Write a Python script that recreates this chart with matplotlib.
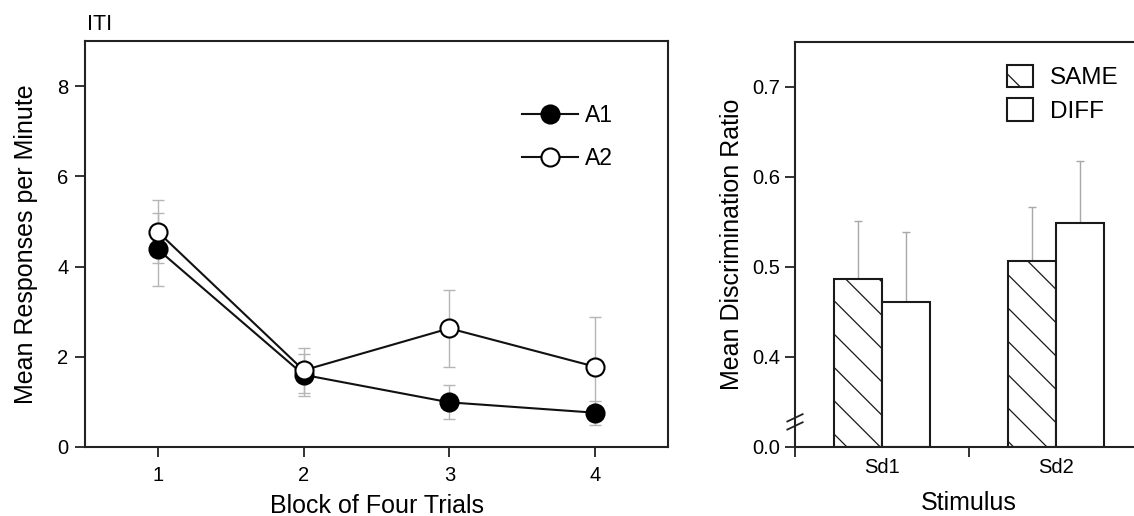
import numpy as np
import matplotlib
matplotlib.use("Agg")
import matplotlib.pyplot as plt
from matplotlib.patches import Patch

plt.rcParams['font.family'] = ['Liberation Sans', 'DejaVu Sans']
plt.rcParams['hatch.color'] = '#a8a8a8'
plt.rcParams['hatch.linewidth'] = 0.9

# left panel: ITI responses
blocks = [1, 2, 3, 4]
a1_mean = [4.38, 1.60, 0.99, 0.76]
a1_err = [0.80, 0.46, 0.38, 0.27]
a2_mean = [4.77, 1.70, 2.63, 1.78]
a2_err = [0.70, 0.50, 0.85, 1.10]

# right panel: discrimination ratio
stimuli = ['Sd1', 'Sd2']
same_mean = [0.487, 0.506]
same_err = [0.064, 0.060]
diff_mean = [0.461, 0.549]
diff_err = [0.078, 0.069]
ratio_ticks = [0.3, 0.4, 0.5, 0.6, 0.7]
ratio_ticklabels = ['0.0', '0.4', '0.5', '0.6', '0.7']
ratio_floor = 0.3

spine_col = '#222222'
fig = plt.figure(figsize=(11.34, 5.16), dpi=100)

# ---------------- left panel ----------------
ax = fig.add_axes([85 / 1134, 69 / 516, 583 / 1134, 406 / 516])
ax.errorbar(blocks, a1_mean, yerr=a1_err, fmt='none', ecolor='#b5b5b5',
            elinewidth=1, capsize=4, capthick=1, zorder=1)
ax.errorbar(blocks, a2_mean, yerr=a2_err, fmt='none', ecolor='#b5b5b5',
            elinewidth=1, capsize=4, capthick=1, zorder=1)
ax.plot(blocks, a1_mean, '-o', color='#111111', lw=1.5, ms=13,
        mfc='black', mec='black', mew=1.5, label='A1', zorder=3)
ax.plot(blocks, a2_mean, '-o', color='#111111', lw=1.5, ms=13,
        mfc='white', mec='black', mew=1.5, label='A2', zorder=4)
ax.set_xlim(0.5, 4.5)
ax.set_ylim(0, 9)
ax.set_xticks(blocks)
ax.set_yticks([0, 2, 4, 6, 8])
ax.tick_params(direction='out', length=7, width=1.3, color=spine_col,
               labelsize=14.5, pad=5)
ax.tick_params(axis='x', pad=7)
for s in ax.spines.values():
    s.set_linewidth(1.5)
    s.set_color(spine_col)
ax.set_xlabel('Block of Four Trials', fontsize=18, labelpad=6)
ax.set_ylabel('Mean Responses per Minute', fontsize=18, labelpad=14)
ax.text(0.004, 1.015, 'ITI', transform=ax.transAxes, fontsize=15.5,
        ha='left', va='bottom')
ax.legend(loc='upper left', bbox_to_anchor=(0.75, 0.845), frameon=False,
          fontsize=16.5, handlelength=2.45, handletextpad=0.3,
          labelspacing=0.88, borderpad=0, borderaxespad=0)

# ---------------- right panel ----------------
bx = fig.add_axes([795 / 1134, 69 / 516, 348 / 1134, 405.3 / 516])
x = np.arange(len(stimuli))
w = 0.276
same_h = [v - ratio_floor for v in same_mean]
diff_h = [v - ratio_floor for v in diff_mean]
bx.errorbar(x - w / 2, same_mean, yerr=[[0] * 2, same_err], fmt='none',
            ecolor='#a8a8a8', elinewidth=1, capsize=3, capthick=1, zorder=1)
bx.errorbar(x + w / 2, diff_mean, yerr=[[0] * 2, diff_err], fmt='none',
            ecolor='#a8a8a8', elinewidth=1, capsize=3, capthick=1, zorder=1)
bx.bar(x - w / 2, same_h, w, bottom=ratio_floor, facecolor='white',
       edgecolor='#1a1a1a', linewidth=1.5, hatch='\\', zorder=2)
bx.bar(x + w / 2, diff_h, w, bottom=ratio_floor, facecolor='white',
       edgecolor='#1a1a1a', linewidth=1.5, zorder=2)
bx.set_xlim(-0.5, 1.5)
bx.set_ylim(ratio_floor, 0.75)
bx.set_yticks(ratio_ticks)
bx.set_yticklabels(ratio_ticklabels)
bx.set_xticks(x)
bx.set_xticklabels(stimuli)
bx.set_xticks([-0.5, 0.5, 1.5], minor=True)
bx.tick_params(axis='x', which='major', length=0, labelsize=14.5, pad=8)
bx.tick_params(axis='x', which='minor', direction='out', length=7,
               width=1.3, color=spine_col)
bx.tick_params(axis='y', direction='out', length=7, width=1.3,
               color=spine_col, labelsize=14.5, pad=3.5)
bx.spines['right'].set_visible(False)
for k in ['left', 'top', 'bottom']:
    bx.spines[k].set_linewidth(1.5)
    bx.spines[k].set_color(spine_col)
bx.set_xlabel('Stimulus', fontsize=18, labelpad=10)
bx.set_ylabel('Mean Discrimination Ratio', fontsize=18, labelpad=6)

# axis break marks
dx, dy = 0.022, 0.009
for yc in [0.072, 0.052]:
    bx.plot([-dx, dx], [yc - dy, yc + dy], transform=bx.transAxes,
            color=spine_col, lw=1.3, clip_on=False, zorder=5)

handles = [Patch(facecolor='white', edgecolor='#1a1a1a', hatch='\\', lw=1.5),
           Patch(facecolor='white', edgecolor='#1a1a1a', lw=1.5)]
bx.legend(handles, ['SAME', 'DIFF'], loc='upper left',
          bbox_to_anchor=(0.609, 0.943), frameon=False, fontsize=17.5,
          handlelength=1.07, handleheight=1.05, handletextpad=0.7,
          labelspacing=0.37, borderpad=0, borderaxespad=0)

fig.savefig('out.png', dpi=100)
